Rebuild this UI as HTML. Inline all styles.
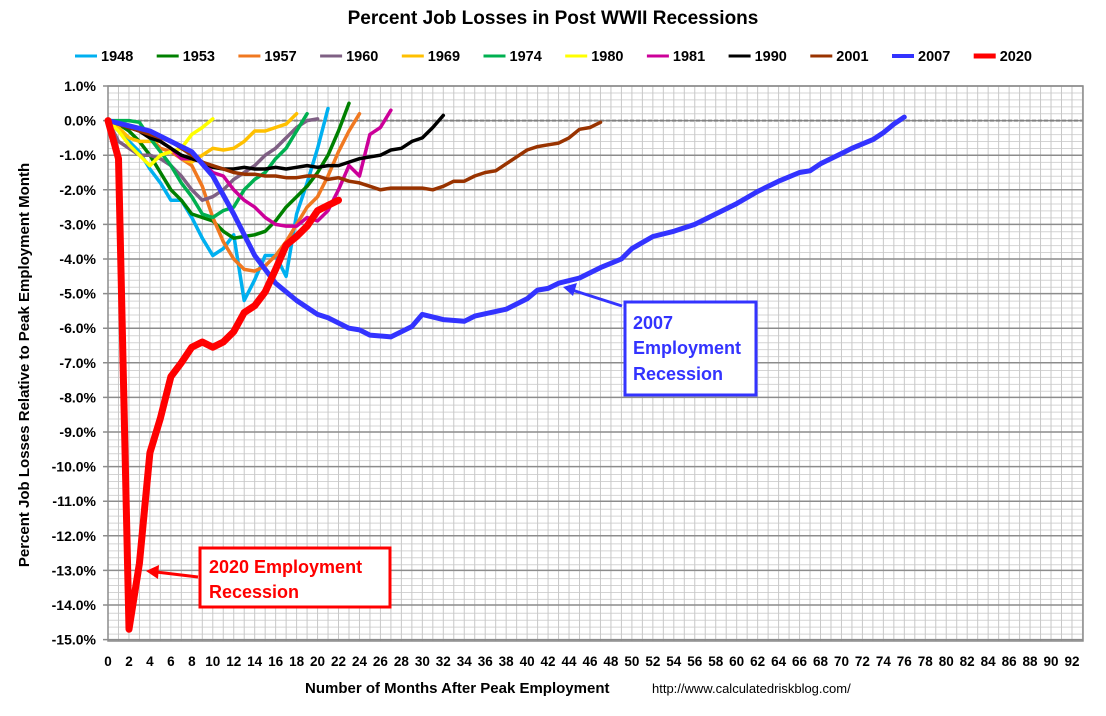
<!DOCTYPE html>
<html><head><meta charset="utf-8"><style>
body{margin:0;background:#fff;}
svg{display:block;font-family:"Liberation Sans",Arial,sans-serif;}
</style></head><body>
<svg id="s" width="1106" height="716" viewBox="0 0 1106 716" xmlns="http://www.w3.org/2000/svg">
<text x="553" y="24" text-anchor="middle" font-size="19" font-weight="bold">Percent Job Losses in Post WWII Recessions</text>
<g id="grid"></g>
<g id="lines" fill="none" stroke-linejoin="round" stroke-linecap="round"></g>
<g id="lab" font-weight="bold"></g>
<text transform="translate(29,365) rotate(-90)" text-anchor="middle" font-size="15" font-weight="bold">Percent Job Losses Relative to Peak Employment Month</text>
<text x="305" y="693" font-size="15" font-weight="bold">Number of Months After Peak Employment</text>
<text x="652" y="693" font-size="13">http://www.calculatedriskblog.com/</text>
<rect x="625" y="302" width="131" height="93" fill="#fff" stroke="#3333FF" stroke-width="3"/>
<text font-size="18" font-weight="bold" fill="#3333FF"><tspan x="633" y="329">2007</tspan><tspan x="633" y="354">Employment</tspan><tspan x="633" y="380">Recession</tspan></text>
<line x1="622" y1="306" x2="572" y2="290" stroke="#3333FF" stroke-width="3"/>
<polygon points="563,287 577,283 573,296" fill="#3333FF"/>
<rect x="200" y="548" width="190" height="59" fill="#fff" stroke="#FF0000" stroke-width="3"/>
<text font-size="18" font-weight="bold" fill="#FF0000"><tspan x="209" y="573">2020 Employment</tspan><tspan x="209" y="598">Recession</tspan></text>
<line x1="198" y1="577" x2="156" y2="572" stroke="#FF0000" stroke-width="3"/>
<polygon points="146,571 159,565 158,579" fill="#FF0000"/>
</svg>
<script>
var NS="http://www.w3.org/2000/svg";
function X(m){return 108+m*10.478;}
function Y(p){return 120.6-p*34.6;}
function el(par,tag,a,txt){var e=document.createElementNS(NS,tag);for(var k in a)e.setAttribute(k,a[k]);if(txt!==undefined)e.textContent=txt;document.getElementById(par).appendChild(e);return e;}
var L=108,R=1083,T=86,B=641;
el("grid","rect",{x:L,y:T,width:R-L,height:B-T,fill:"#fff"});
for(var i=0;i<=80;i++){var y=T+i*(B-T)/80;if(i%5)el("grid","line",{x1:L,x2:R,y1:y,y2:y,stroke:"#d4d4d4","stroke-width":1});}
for(var m=1;m<=93;m++){var x=X(m);if(x<R)el("grid","line",{x1:x,x2:x,y1:T,y2:B,stroke:"#c8c8c8","stroke-width":1});}
for(var p=1;p>=-15;p--){var y=Y(p);el("grid","line",{x1:L-5,x2:R,y1:y,y2:y,stroke:"#8c8c8c","stroke-width":1.5});
 el("lab","text",{x:96,y:y+5,"text-anchor":"end","font-size":14},p.toFixed(1)+"%");}
el("grid","line",{x1:L,x2:R,y1:Y(0),y2:Y(0),stroke:"#808080","stroke-width":2,"stroke-dasharray":"4,2"});
el("grid","rect",{x:L,y:T,width:R-L,height:B-T,fill:"none",stroke:"#8c8c8c","stroke-width":1.5});
for(var m=0;m<=92;m+=2)el("lab","text",{x:X(m),y:666,"text-anchor":"middle","font-size":13.5},m);
function seq(a){return a.map(function(v,i){return [i,v];});}
var S=[
["1948","#00B0F0",3.5,seq([0,-0.3,-0.6,-0.9,-1.4,-1.8,-2.3,-2.3,-2.8,-3.4,-3.9,-3.7,-3.3,-5.2,-4.6,-3.9,-3.9,-4.5,-2.7,-1.8,-0.8,0.35])],
["1953","#008000",3.5,seq([0,-0.1,-0.3,-0.6,-1.0,-1.5,-2.0,-2.3,-2.7,-2.8,-2.9,-3.2,-3.4,-3.35,-3.3,-3.2,-2.9,-2.5,-2.2,-1.9,-1.5,-1.0,-0.3,0.5])],
["1957","#F07820",3.5,seq([0,-0.1,-0.2,-0.3,-0.5,-0.8,-0.9,-1.1,-1.3,-1.9,-2.8,-3.5,-4.0,-4.3,-4.35,-4.2,-3.9,-3.5,-3.0,-2.5,-2.2,-1.6,-0.9,-0.3,0.2])],
["1960","#7F6084",3.5,seq([0,-0.6,-0.8,-1.0,-1.0,-1.1,-1.3,-1.6,-2.0,-2.3,-2.2,-2.0,-1.7,-1.5,-1.3,-1.0,-0.8,-0.5,-0.2,0.0,0.05])],
["1969","#FFC000",3.5,seq([0,-0.2,-0.5,-0.6,-0.6,-0.6,-0.8,-1.1,-1.2,-1.0,-0.8,-0.85,-0.8,-0.6,-0.3,-0.3,-0.2,-0.1,0.2])],
["1974","#00B050",3.5,seq([0,0,0,-0.05,-0.5,-0.9,-1.3,-1.8,-2.2,-2.7,-2.8,-2.6,-2.5,-2.0,-1.7,-1.5,-1.1,-0.8,-0.3,0.2])],
["1980","#FFFF00",3.5,seq([0,-0.3,-0.7,-1.0,-1.3,-1.0,-0.9,-0.8,-0.4,-0.2,0.05])],
["1981","#CC0099",3.5,seq([0,-0.1,-0.2,-0.3,-0.4,-0.6,-0.8,-1.1,-1.1,-1.2,-1.5,-1.6,-2.0,-2.3,-2.5,-2.8,-3.0,-3.05,-3.05,-2.8,-2.9,-2.6,-2.0,-1.3,-1.6,-0.4,-0.2,0.3])],
["1990","#000000",3.5,seq([0,-0.1,-0.2,-0.3,-0.5,-0.6,-0.8,-1.0,-1.1,-1.2,-1.35,-1.4,-1.4,-1.35,-1.4,-1.4,-1.35,-1.4,-1.35,-1.3,-1.35,-1.3,-1.3,-1.2,-1.1,-1.05,-1.0,-0.85,-0.8,-0.6,-0.5,-0.2,0.15])],
["2001","#993300",3.5,seq([0,-0.1,-0.2,-0.3,-0.4,-0.5,-0.6,-0.8,-1.0,-1.2,-1.3,-1.4,-1.5,-1.55,-1.55,-1.6,-1.6,-1.65,-1.65,-1.6,-1.6,-1.7,-1.65,-1.75,-1.8,-1.9,-2.0,-1.95,-1.95,-1.95,-1.95,-2.0,-1.9,-1.75,-1.75,-1.6,-1.5,-1.45,-1.25,-1.05,-0.85,-0.75,-0.7,-0.65,-0.5,-0.25,-0.2,-0.05])],
["2007","#3333FF",5,[[0,0],[4,-0.3],[8,-0.9],[10,-1.6],[12,-2.7],[14,-3.9],[16,-4.7],[18,-5.2],[20,-5.6],[21,-5.7],[23,-6.0],[24,-6.05],[25,-6.2],[27,-6.25],[29,-5.95],[30,-5.6],[32,-5.75],[34,-5.8],[35,-5.65],[38,-5.45],[40,-5.15],[41,-4.9],[42,-4.85],[43,-4.7],[45,-4.55],[47,-4.25],[49,-4.0],[50,-3.7],[52,-3.35],[54,-3.2],[56,-3.0],[58,-2.7],[60,-2.4],[62,-2.05],[64,-1.75],[66,-1.5],[67,-1.45],[68,-1.25],[70,-0.95],[71,-0.8],[73,-0.55],[74,-0.35],[75,-0.1],[76,0.1]]],
["2020","#FF0000",7,seq([0,-1.1,-14.7,-12.8,-9.6,-8.6,-7.4,-7.0,-6.55,-6.4,-6.55,-6.4,-6.1,-5.55,-5.35,-4.95,-4.3,-3.6,-3.35,-3.05,-2.6,-2.45,-2.3])]
];
S.forEach(function(s,i){
 var pts=s[3].map(function(q){return X(q[0]).toFixed(1)+","+Y(q[1]).toFixed(1);}).join(" ");
 el("lines","polyline",{points:pts,stroke:s[1],"stroke-width":s[2]});
 var lx=75+i*81.7;
 el("lab","line",{x1:lx,x2:lx+22,y1:56,y2:56,stroke:s[1],"stroke-width":s[0]=="2020"?5:(s[0]=="2007"?4:3)});
 el("lab","text",{x:lx+26,y:61,"font-size":14.5},s[0]);
});
</script>
</body></html>
